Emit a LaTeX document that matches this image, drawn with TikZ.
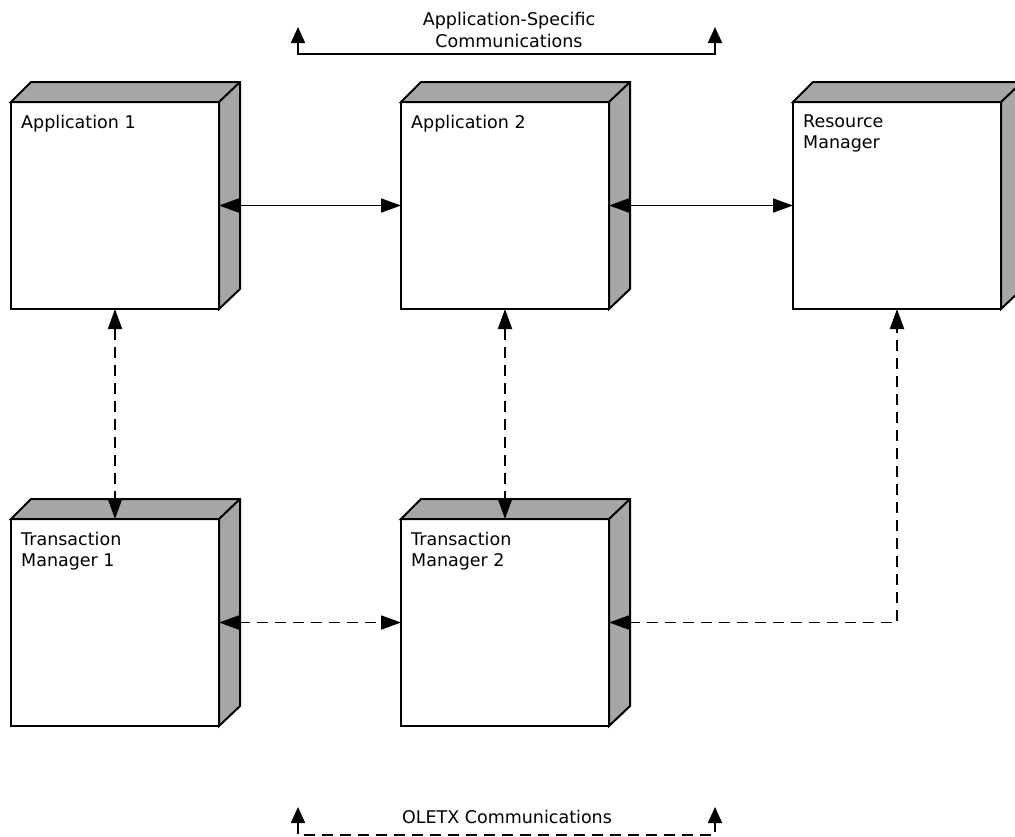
\documentclass[tikz,border=0pt]{standalone}
\usepackage{fontspec}
\setmainfont{DejaVu Sans}
\usetikzlibrary{arrows.meta,calc}
\definecolor{facegray}{RGB}{166,166,166}
\tikzset{
  front/.style={draw=black, line width=2pt, fill=white, minimum width=208pt, minimum height=207pt, anchor=north west, inner sep=0pt, outer sep=0pt},
  face/.style={draw=black, line width=2pt, fill=facegray, line join=miter},
  boxlbl/.style={anchor=north west, align=left, inner sep=0pt, font=\fontsize{17.5}{21}\selectfont},
  leglbl/.style={align=center, inner sep=0pt, font=\fontsize{17.5}{22}\selectfont},
  conn/.style={line width=1.8pt, {Triangle[length=20pt,width=14pt]}-{Triangle[length=20pt,width=14pt]}},
  dashconn/.style={conn, dash pattern=on 11pt off 7pt},
  legline/.style={line width=1.8pt, {Triangle[length=16pt,width=14pt]}-{Triangle[length=16pt,width=14pt]}},
}
\newcommand\mycube[4]{%
  \node[front] (#1) at (#2,#3) {};
  \draw[face] (#1.north west) -- ++(20,-20) -- ($(#1.north east)+(21,-20)$) -- ($(#1.south east)+(21,-20)$) -- (#1.south east) -- (#1.north east) -- cycle;
  \draw[face] (#1.north east) -- ++(21,-20);
  \node[boxlbl] (#1l) at ($(#1.north west)+(10,12.7)$) {#4};
}
\begin{document}
\begin{tikzpicture}[x=1pt,y=-1pt]
  \useasboundingbox (0,0) rectangle (1015,836);
  % boxes
  \mycube{appa}{11}{102}{Application 1}
  \mycube{appb}{401}{102}{Application 2}
  \mycube{resm}{793}{102}{Resource\\Manager}
  \mycube{tma}{11}{519}{Transaction\\Manager 1}
  \mycube{tmb}{401}{519}{Transaction\\Manager 2}
  % connectors
  \draw[conn] (appa.east) -- (appb.west);
  \draw[conn] (appb.east) -- (resm.west);
  \draw[dashconn] (appa.south) -- (tma.north);
  \draw[dashconn] (appb.south) -- (tmb.north);
  \draw[dashconn] (tma.east) -- (tmb.west);
  \draw[dashconn] (tmb.east) -| (resm.south);
  % legend top
  \coordinate (lta) at (298,27);
  \coordinate (ltb) at (715,27);
  \draw[legline] (lta) -- (298,54) -- (715,54) -- (ltb);
  \node[leglbl, anchor=north] (legtop) at (509,11.7) {Application-Specific\\Communications};
  % legend bottom
  \coordinate (lba) at (298,807);
  \coordinate (lbb) at (715,807);
  \draw[legline, dash pattern=on 11pt off 7pt] (lba) -- (298,835) -- (715,835) -- (lbb);
  \node[leglbl, anchor=base] (legbot) at (507,823) {OLETX Communications};
\end{tikzpicture}
\end{document}
